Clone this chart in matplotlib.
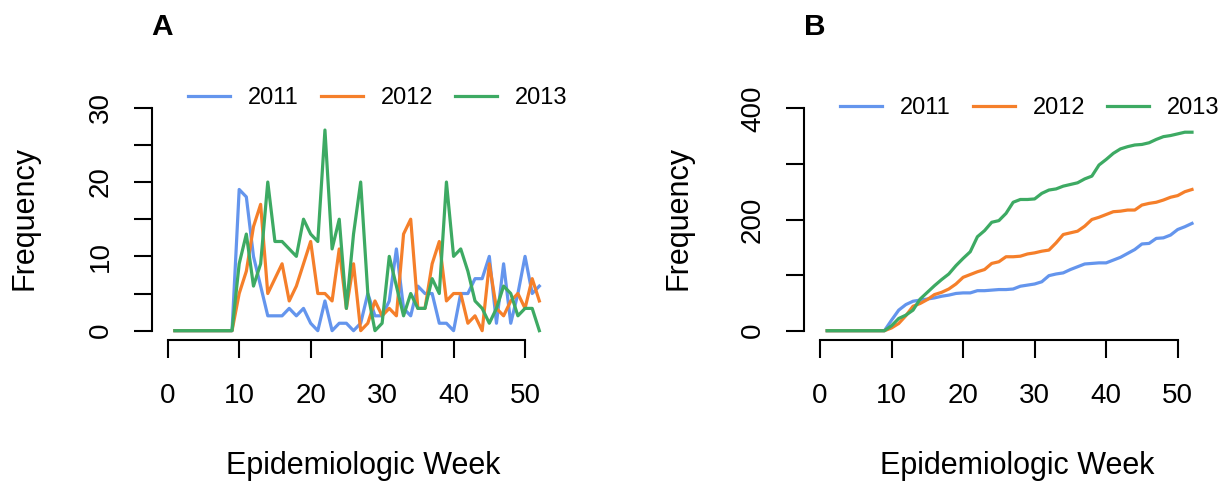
import matplotlib
matplotlib.use('Agg')
import matplotlib.pyplot as plt
import numpy as np

plt.rcParams['font.family'] = ['Liberation Sans', 'DejaVu Sans']

# ---- data ----
weeks = list(range(1, 53))
years = ['2011', '2012', '2013']
freq_2011 = [0]*9 + [19, 18, 10, 6, 2, 2, 2, 3, 2, 3, 1, 0, 4, 0,
                     1, 1, 0, 1, 5, 2, 2, 4, 11, 3, 2, 6, 5, 5, 1, 1, 0,
                     5, 5, 7, 7, 10, 1, 9, 1, 5, 10, 5, 6]
freq_2012 = [0]*9 + [5, 8, 14, 17, 5, 7, 9, 4, 6, 9, 12, 5, 5, 4,
                     11, 3, 9, 0, 1, 4, 2, 3, 2, 13, 15, 3, 3, 9, 12, 4, 5,
                     5, 1, 2, 0, 9, 3, 2, 4, 5, 3, 7, 4]
freq_2013 = [0]*9 + [9, 13, 6, 9, 20, 12, 12, 11, 10, 15, 13, 12, 27, 11, 15, 3, 13,
                     20, 5, 0, 1, 10, 6, 2, 5, 3, 3, 7, 5, 20, 10, 11, 8, 4,
                     3, 1, 3, 6, 5, 2, 3, 3, 0]
colors = ['#6495ED', '#F57F2A', '#3DAA63']

xticks = [0, 10, 20, 30, 40, 50]
yticksA = [0, 5, 10, 15, 20, 25, 30]
ylabelsA = ['0', '', '10', '', '20', '', '30']
yticksB = [0, 100, 200, 300, 400]
ylabelsB = ['0', '', '200', '', '400']

W, H = 1225, 483
fig = plt.figure(figsize=(W/100, H/100), dpi=100)

def rect(l, r, t, b):
    return [l/W, 1 - b/H, (r - l)/W, (b - t)/H]

axA = fig.add_axes(rect(152, 576.5, 98.8, 339.6))
axB = fig.add_axes(rect(804.3, 1229.2, 99.4, 339.6))

series = [freq_2011, freq_2012, freq_2013]

def style(ax, yticks, ylabels, ylim):
    ax.set_xlim(-2.2, 57.2)
    ax.set_ylim(*ylim)
    for s in ['top', 'right']:
        ax.spines[s].set_visible(False)
    for s in ['left', 'bottom']:
        ax.spines[s].set_linewidth(1.5)
    ax.spines['left'].set_bounds(yticks[0], yticks[-1])
    ax.spines['bottom'].set_bounds(xticks[0], xticks[-1])
    ax.set_xticks(xticks)
    ax.set_xticklabels([str(t) for t in xticks])
    ax.set_yticks(yticks)
    ax.set_yticklabels(ylabels)
    ax.tick_params(axis='both', direction='out', length=13, width=1.5,
                   labelsize=20, colors='black')
    ax.tick_params(axis='x', pad=18.5)
    ax.tick_params(axis='y', pad=14.5)
    for lab in ax.get_yticklabels():
        lab.set_rotation(90)
        lab.set_va('center')
        lab.set_ha('right')
    ax.patch.set_alpha(0)

# Panel A
linesA = []
for vals, c, yr in zip(series, colors, years):
    ln, = axA.plot(weeks, vals, color=c, lw=2.3, label=yr)
    linesA.append(ln)
style(axA, yticksA, ylabelsA, (-1.2, 31.2))

# Panel B (cumulative)
linesB = []
for vals, c, yr in zip(series, colors, years):
    ln, = axB.plot(weeks, np.cumsum(vals), color=c, lw=2.3, label=yr)
    linesB.append(ln)
style(axB, yticksB, ylabelsB, (-16, 416))

leg_kw = dict(ncol=3, frameon=False, loc='center left', borderpad=0,
              borderaxespad=0, handlelength=1.78, handletextpad=0.76,
              columnspacing=0.93, fontsize=17,
              bbox_transform=fig.transFigure)
axA.legend(handles=linesA, bbox_to_anchor=(188/W, 1 - 98/H), **leg_kw)
axB.legend(handles=linesB, bbox_to_anchor=(840/W, 1 - 108/H), **leg_kw)

# Axis labels and titles
for x in (25, 678):
    fig.text(x/W, 1 - 218/H, 'Frequency', rotation=90, ha='center',
             va='center', fontsize=22)
for x in (363.4, 1017):
    fig.text(x/W, 2/H, 'Epidemiologic Week', ha='center',
             va='bottom', fontsize=22)
fig.text(162/W, 1 - 35/H, 'A', ha='center', va='baseline', fontsize=21.5,
         fontweight='bold')
fig.text(815/W, 1 - 35/H, 'B', ha='center', va='baseline', fontsize=21.5,
         fontweight='bold')

fig.savefig('out.png', dpi=100)
